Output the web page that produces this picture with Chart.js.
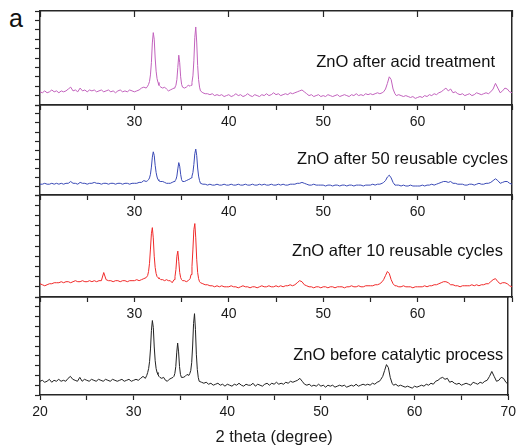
<!DOCTYPE html>
<html>
<head>
<meta charset="utf-8">
<script src="https://cdn.jsdelivr.net/npm/chart.js@4.4.1/dist/chart.umd.min.js"></script>
<style>
  body { margin: 0; background: #fff; width: 520px; height: 445px; overflow: hidden; position: relative; }
  .panel { position: absolute; left: 0; }
  #tag { position: absolute; left: 9px; top: 4px; font: 25px "Liberation Sans", Arial, sans-serif; color: #111; }
</style>
</head>
<body>
<div id="tag">a</div>

<script>
// 2 theta grid (degree), denser around the ZnO reflections
const twoTheta = [
  20, 20.25, 20.5, 20.75, 21, 21.25, 21.5, 21.75, 22, 22.25,
  22.5, 22.75, 23, 23.25, 23.5, 23.75, 24, 24.25, 24.5, 24.75,
  25, 25.25, 25.5, 25.75, 26, 26.25, 26.5, 26.75, 27, 27.25,
  27.5, 27.75, 28, 28.25, 28.5, 28.75, 29, 29.25, 29.5, 29.75,
  30, 30.25, 30.5, 30.75, 31, 31.25,
  31.4, 31.5, 31.6, 31.7, 31.8, 31.9, 32.0, 32.1, 32.2, 32.3, 32.4, 32.5, 32.6, 32.7, 32.8,
  33, 33.2, 33.4, 33.6, 33.8, 34, 34.2,
  34.3, 34.4, 34.5, 34.6, 34.7, 34.8, 34.9, 35.0, 35.1,
  35.3, 35.5, 35.7, 35.9,
  36.0, 36.1, 36.2, 36.3, 36.4, 36.5, 36.6, 36.7, 36.8, 36.9, 37.0,
  37.25, 37.5, 37.75, 38, 38.25, 38.5, 38.75, 39, 39.25, 39.5, 39.75,
  40, 40.25, 40.5, 40.75, 41, 41.25, 41.5, 41.75, 42, 42.25,
  42.5, 42.75, 43, 43.25, 43.5, 43.75, 44, 44.25, 44.5, 44.75,
  45, 45.25, 45.5, 45.75, 46, 46.25, 46.5, 46.75, 47, 47.25,
  47.5, 47.75, 48, 48.25, 48.5, 48.75, 49, 49.25, 49.5, 49.75,
  50, 50.25, 50.5, 50.75, 51, 51.25, 51.5, 51.75, 52, 52.25,
  52.5, 52.75, 53, 53.25, 53.5, 53.75, 54, 54.25, 54.5, 54.75,
  55, 55.25, 55.5, 55.75, 56, 56.25,
  56.4, 56.6, 56.8, 57, 57.2, 57.4, 57.6,
  57.75, 58, 58.25, 58.5, 58.75, 59, 59.25, 59.5, 59.75, 60,
  60.25, 60.5, 60.75, 61, 61.25, 61.5, 61.75, 62, 62.25, 62.5,
  62.75, 63, 63.25, 63.5, 63.75, 64, 64.25, 64.5, 64.75, 65,
  65.25, 65.5, 65.75, 66, 66.25, 66.5, 66.75, 67, 67.25, 67.5,
  67.75, 68, 68.25, 68.5, 68.75, 69, 69.25, 69.5, 69.75, 70
];

// intensities (a.u.), each pattern on its own 0-100 panel scale
const acidTreated = [
  14, 13, 15, 13, 14, 16, 14, 15, 13, 15,
  14, 15, 17, 19, 15, 16, 14, 18, 15, 16,
  14, 16, 15, 16, 14, 15, 16, 14, 15, 16,
  14, 15, 13, 15, 16, 14, 15, 14, 16, 15,
  14, 15, 16, 18, 19, 18,
  20, 22, 25, 32, 45, 66, 77, 70, 50, 36, 28, 24, 21, 20, 19,
  18, 19, 17, 15, 16, 17, 18,
  19, 21, 27, 40, 53, 45, 30, 22, 19,
  18, 19, 21, 20,
  21, 24, 31, 47, 72, 83, 67, 42, 27, 19, 15,
  13, 12, 12, 11, 12, 10, 11, 10, 11, 9, 10,
  11, 9, 10, 12, 10, 11, 9, 10, 12, 10,
  9, 11, 10, 9, 11, 10, 12, 10, 11, 13,
  11, 12, 10, 11, 12, 11, 13, 12, 13, 14,
  15, 16, 14, 12, 10, 11, 9, 10, 11, 9,
  10, 9, 11, 10, 9, 10, 11, 9, 10, 11,
  10, 9, 11, 10, 12, 10, 11, 10, 12, 11,
  12, 11, 12, 13, 12, 13,
  14, 17, 23, 30, 27, 17, 12,
  10, 11, 10, 9, 10, 9, 8, 9, 7, 8,
  9, 8, 10, 9, 11, 10, 12, 11, 13, 14,
  16, 18, 15, 17, 13, 14, 12, 11, 12, 10,
  11, 12, 10, 11, 13, 12, 11, 12, 13, 12,
  14, 17, 23, 18, 13, 15, 18, 17, 14, 13
];

const cycles50 = [
  12, 12, 13, 12, 12, 13, 12, 13, 12, 13,
  12, 13, 13, 15, 13, 13, 12, 14, 13, 13,
  12, 13, 13, 14, 13, 13, 12, 13, 13, 12,
  13, 13, 12, 13, 13, 12, 13, 13, 12, 13,
  13, 13, 14, 14, 16, 15,
  16, 17, 19, 23, 31, 42, 48, 44, 33, 25, 20, 17, 16, 15, 15,
  15, 14, 13, 13, 13, 14, 15,
  16, 17, 21, 29, 36, 32, 23, 17, 15,
  15, 16, 17, 18,
  19, 21, 25, 34, 46, 51, 44, 30, 21, 16, 13,
  12, 12, 11, 12, 11, 11, 12, 11, 11, 12, 11,
  11, 12, 11, 11, 12, 11, 11, 12, 11, 11,
  12, 11, 11, 12, 11, 12, 11, 11, 12, 11,
  11, 12, 11, 12, 11, 11, 12, 12, 12, 13,
  13, 14, 13, 12, 11, 11, 12, 11, 11, 11,
  11, 10, 11, 11, 10, 11, 11, 10, 11, 11,
  10, 11, 11, 10, 11, 11, 11, 10, 11, 11,
  11, 12, 11, 12, 12, 13,
  14, 16, 20, 22, 19, 14, 11,
  11, 11, 10, 11, 10, 10, 11, 10, 10, 10,
  10, 11, 10, 11, 11, 12, 11, 12, 13, 14,
  15, 15, 14, 15, 13, 13, 12, 12, 12, 11,
  11, 12, 12, 11, 12, 13, 12, 12, 13, 13,
  14, 16, 18, 16, 13, 14, 15, 15, 13, 12
];

const cycles10 = [
  13, 12, 11, 12, 13, 13, 14, 14, 14, 15,
  14, 15, 15, 14, 15, 16, 15, 15, 16, 15,
  15, 16, 15, 16, 15, 16, 16, 24, 17, 16,
  16, 15, 16, 16, 15, 16, 16, 15, 16, 16,
  16, 17, 16, 17, 18, 19,
  21, 25, 33, 47, 62, 68, 58, 40, 29, 23, 20, 19, 18, 18, 17,
  17, 16, 17, 16, 16, 14, 17,
  20, 27, 40, 45, 35, 24, 19, 17, 16,
  16, 15, 16, 18,
  22, 30, 47, 66, 72, 58, 37, 24, 18, 15, 14,
  13, 12, 12, 11, 11, 10, 11, 10, 11, 10, 10,
  10, 11, 10, 10, 9, 10, 11, 10, 10, 9,
  10, 10, 9, 10, 11, 10, 10, 11, 10, 10,
  11, 10, 11, 10, 11, 11, 12, 11, 12, 14,
  16, 15, 12, 11, 10, 10, 9, 10, 10, 9,
  10, 10, 9, 10, 10, 9, 10, 10, 10, 9,
  10, 10, 11, 10, 10, 11, 10, 10, 11, 11,
  11, 11, 12, 12, 13, 15,
  17, 21, 25, 23, 17, 13, 11,
  11, 10, 10, 11, 10, 10, 10, 9, 10, 10,
  10, 10, 11, 10, 11, 11, 12, 12, 13, 14,
  15, 15, 14, 12, 12, 11, 11, 10, 11, 11,
  11, 11, 12, 11, 12, 11, 12, 12, 13, 13,
  15, 17, 18, 15, 13, 14, 14, 13, 11, 10
];

const beforeCatalysis = [
  14, 15, 13, 14, 16, 13, 15, 14, 16, 14,
  15, 14, 17, 19, 16, 15, 14, 18, 14, 16,
  15, 14, 16, 15, 14, 16, 15, 14, 16, 15,
  14, 16, 15, 14, 15, 16, 14, 15, 16, 14,
  15, 16, 15, 17, 19, 17,
  20, 23, 27, 34, 47, 66, 76, 69, 49, 35, 27, 23, 21, 19, 18,
  17, 18, 15, 14, 16, 17, 18,
  19, 22, 29, 43, 53, 44, 29, 21, 18,
  18, 19, 21, 20,
  22, 25, 33, 50, 73, 83, 67, 41, 26, 18, 14,
  13, 12, 13, 11, 12, 10, 11, 12, 10, 11, 9,
  11, 10, 9, 11, 10, 12, 10, 9, 11, 10,
  10, 12, 9, 11, 10, 9, 11, 12, 10, 12,
  11, 13, 11, 12, 11, 13, 12, 14, 13, 14,
  15, 17, 14, 11, 10, 11, 9, 10, 9, 11,
  9, 10, 8, 10, 9, 10, 8, 9, 10, 9,
  10, 8, 9, 10, 9, 11, 9, 10, 11, 10,
  11, 10, 12, 11, 13, 14,
  16, 19, 25, 31, 28, 18, 12,
  10, 11, 9, 10, 9, 8, 9, 8, 7, 9,
  8, 9, 10, 9, 11, 10, 12, 11, 14, 15,
  17, 18, 16, 17, 13, 14, 12, 11, 12, 10,
  11, 12, 11, 10, 13, 12, 11, 13, 12, 14,
  15, 19, 24, 19, 14, 15, 18, 17, 13, 11
];

const panelNames = [
  'ZnO after acid treatment',
  'ZnO after 50 reusable cycles',
  'ZnO after 10 reusable cycles',
  'ZnO before catalytic process'
];
const panelSeries = [acidTreated, cycles50, cycles10, beforeCatalysis];
const panelColors = ['#c262bd', '#3a4ab6', '#f02a2a', '#222222'];

// panel frames in page pixels: top/bottom of each plot area, label offsets
const panelTop = [11, 105, 195, 297];
const panelBottom = [105, 195, 297, 395];
const nameRight = [17, 4, 9, 5];
const nameDown = [51, 54, 56, 58];

const FONT = '"Liberation Sans", Arial, Helvetica, sans-serif';
Chart.defaults.font.family = FONT;
Chart.defaults.color = '#1a1a1a';

const frame = { color: '#262626', width: 1.5 };
const PAD_TOP = 4;

function makePanel(i) {
  const last = i === panelSeries.length - 1;
  const below = last ? 52 : 28;
  const h = PAD_TOP + (panelBottom[i] - panelTop[i]) + below;

  const canvas = document.createElement('canvas');
  canvas.className = 'panel';
  canvas.width = 520;
  canvas.height = h;
  canvas.style.top = (panelTop[i] - PAD_TOP) + 'px';
  document.body.appendChild(canvas);

  // sample name written in the upper right of its panel
  const nameLabel = {
    id: 'nameLabel',
    afterDatasetsDraw(chart) {
      const ctx = chart.ctx;
      const area = chart.chartArea;
      ctx.save();
      ctx.font = '16.5px ' + FONT;
      ctx.fillStyle = '#111';
      ctx.textAlign = 'right';
      ctx.textBaseline = 'middle';
      ctx.fillText(panelNames[i], area.right - nameRight[i], area.top + nameDown[i]);
      ctx.restore();
    }
  };

  new Chart(canvas, {
    type: 'line',
    data: {
      datasets: [{
        data: twoTheta.map((t, k) => ({ x: t, y: panelSeries[i][k] })),
        borderColor: panelColors[i],
        borderWidth: 1,
        pointRadius: 0,
        tension: 0
      }]
    },
    options: {
      responsive: false,
      animation: false,
      events: [],
      layout: { padding: { top: PAD_TOP, left: 0, right: 0, bottom: 0 } },
      plugins: { legend: { display: false }, tooltip: { enabled: false } },
      scales: {
        x: {
          type: 'linear',
          position: 'bottom',
          min: 20,
          max: 70,
          border: frame,
          grid: { drawOnChartArea: false, tickLength: 5, tickColor: '#262626', tickWidth: 1.2 },
          ticks: {
            stepSize: 5,
            autoSkip: false,
            maxRotation: 0,
            padding: 4,
            font: { size: 14 },
            callback: v => (v % 10 === 0 && (last || (v > 20 && v < 70))) ? v : ''
          },
          title: {
            display: last,
            text: '2 theta (degree)',
            font: { size: 16.5 },
            padding: { top: 0, bottom: 0 }
          },
          afterFit: s => { s.height = below; }
        },
        xTop: {
          type: 'linear',
          position: 'top',
          min: 20,
          max: 70,
          border: frame,
          grid: {
            drawOnChartArea: false,
            drawTicks: i === 0,
            tickLength: -6,
            tickColor: '#262626',
            tickWidth: 1.2
          },
          ticks: { display: false, stepSize: 10 },
          afterFit: s => { s.height = 0; }
        },
        y: {
          type: 'linear',
          position: 'left',
          min: 0,
          max: 100,
          border: frame,
          grid: { drawOnChartArea: false, tickLength: 5, tickColor: '#262626', tickWidth: 1.2 },
          ticks: { display: false, stepSize: 10 },
          afterFit: s => { s.width = 40; }
        },
        yRight: {
          type: 'linear',
          position: 'right',
          border: frame,
          grid: { drawOnChartArea: false, drawTicks: false },
          ticks: { display: false },
          afterFit: s => { s.width = 8; }
        }
      }
    },
    plugins: [nameLabel]
  });
}

panelSeries.forEach((_, i) => makePanel(i));
</script>
</body>
</html>
